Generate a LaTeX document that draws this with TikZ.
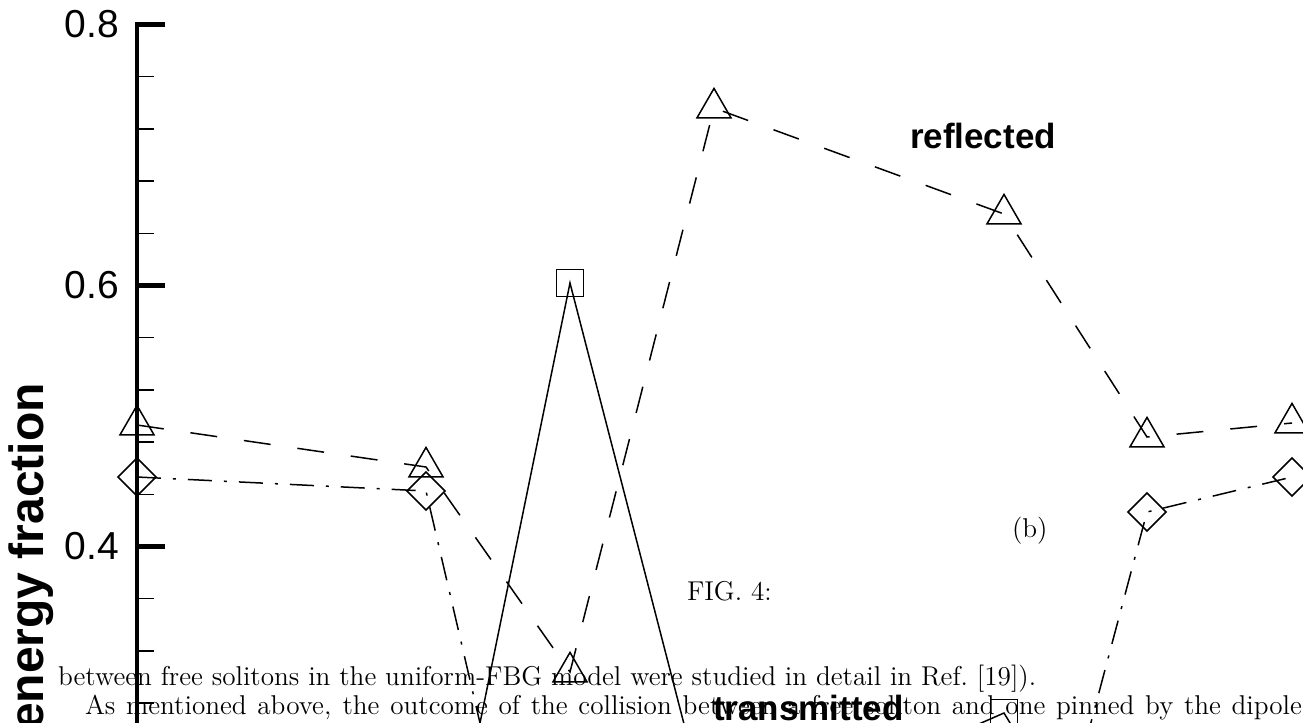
\documentclass[tikz,border=0pt]{standalone}
\usepackage{fontspec}
\newfontfamily\plotfont{Liberation Sans}
\usetikzlibrary{shapes.geometric}

\begin{document}
\begin{tikzpicture}[x=0.5pt,y=-0.5pt]
    \tikzstyle{every node}=[inner sep=0pt,outer sep=0pt]
    \tikzstyle{bodytext}=[font=\fontsize{13.6}{16}\selectfont,anchor=base west]
    \tikzstyle{curvelabel}=[font=\plotfont\bfseries\fontsize{17.5}{20}\selectfont,anchor=base west]
    \tikzstyle{axislabel}=[font=\plotfont\bfseries\fontsize{24}{28}\selectfont,rotate=90,anchor=base east]
    \tikzstyle{ticklabel}=[font=\plotfont\fontsize{19.5}{22}\selectfont,anchor=east]
    \tikzstyle{tri}=[draw,regular polygon,regular polygon sides=3,minimum size=19.6pt,line width=0.75pt]
    \tikzstyle{dia}=[draw,diamond,minimum width=19pt,minimum height=19pt,line width=0.75pt]
    \tikzstyle{sqr}=[draw,rectangle,minimum size=13.5pt,line width=0.75pt]
    \tikzstyle{refl}=[line width=0.75pt,dash pattern=on 13.5pt off 13.5pt]
    \tikzstyle{trans}=[line width=0.75pt]
    \tikzstyle{other}=[line width=0.75pt,dash pattern=on 12pt off 6pt on 1.5pt off 6pt]

    \useasboundingbox (0,0) rectangle (1303,723);
    \clip (0,0) rectangle (1303,723);

    \draw[line width=2.2pt] (165,24.5) -- (137,24.5) -- (137,760);
    \foreach \v/\lab/\n in {24.5/0.8/a,285.5/0.6/b,546.5/0.4/c} {
        \draw[line width=2.2pt] (137,\v) -- (165,\v);
        \node[ticklabel] (tick\n) at (119,\v) {\lab};
    }
    \foreach \k in {1,2,3,4,6,7,8,9,11,12,13}
        \draw[line width=0.75pt] (137,{24.5+52.2*\k}) -- (154,{24.5+52.2*\k});

    \node[axislabel] (ylab) at (43,383) {energy fraction};

    \node[tri] (t1) at (137,425) {};
    \node[tri] (t2) at (426,467) {};
    \node[tri] (t3) at (570,672) {};
    \node[tri] (t4) at (714,108) {};
    \node[tri] (t5) at (1004,214) {};
    \node[tri] (t6) at (1147,437) {};
    \node[tri] (t7) at (1292,423) {};

    \node[dia] (d1) at (137,477) {};
    \node[dia] (d2) at (426,491) {};
    \coordinate (d3) at (570,1110);
    \coordinate (d4) at (1003,1053);
    \node[dia] (d5) at (1147,512) {};
    \node[dia] (d6) at (1292,477) {};

    \coordinate (s2) at (426,987);
    \node[sqr] (s3) at (570,283) {};
    \coordinate (s4) at (714,840);
    \node[sqr] (s6) at (1004,713) {};
    \coordinate (s7) at (1147,949);

    \draw[refl] (t1.center) -- (t2.center) -- (t3.center) -- (t4.center) -- (t5.center) -- (t6.center) -- (t7.center);
    \draw[other] (d1.center) -- (d2.center) -- (d3) -- (d4) -- (d5.center) -- (d6.center);
    \draw[trans] (s2) -- (s3.center) -- (s4) -- (s6.center) -- (s7);

    \node[curvelabel] (refllab) at (910,148) {reflected};
    \node[curvelabel] (translab) at (713,720) {transmitted};

    \node[bodytext] (fig) at (687,600.7) {FIG. 4:};
    \node[bodytext] (panel) at (1012,537) {(b)};
    \node[bodytext] (line1) at (58,685) {between free solitons in the uniform-FBG model were studied in detail in Ref.~[19]).};
    \node[bodytext] (line2) at (85,714) {\makebox[608.5pt][s]{As mentioned above, the outcome of the collision between a free soliton and one pinned by the dipole}};
\end{tikzpicture}
\end{document}
